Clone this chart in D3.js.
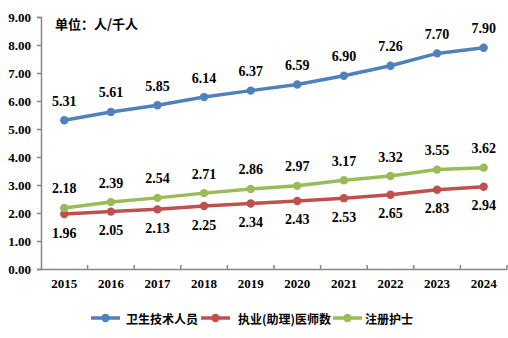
<!DOCTYPE html>
<html><head><meta charset="utf-8">
<script src="https://cdn.jsdelivr.net/npm/d3@7"></script>
<style>body{margin:0;background:#fff}svg{display:block}</style>
</head><body>
<svg id="c" width="508" height="338"></svg>
<script>
const years = ["2015","2016","2017","2018","2019","2020","2021","2022","2023","2024"];
const techStaff = [5.31,5.61,5.85,6.14,6.37,6.59,6.90,7.26,7.70,7.90];
const doctors = [1.96,2.05,2.13,2.25,2.34,2.43,2.53,2.65,2.83,2.94];
const nurses = [2.18,2.39,2.54,2.71,2.86,2.97,3.17,3.32,3.55,3.62];
const seriesNames = ["卫生技术人员","执业(助理)医师数","注册护士"];
const yTicks = [0,1,2,3,4,5,6,7,8,9];

(function(){
const svg = d3.select("#c");
const font = "'Liberation Serif','Times New Roman',serif";
const cjk = "'Noto Sans CJK SC',sans-serif";
const mLeft = 41, mRight = 507, mTop = 17, mBottom = 269;
const x = d3.scaleBand().domain(years).range([mLeft, mRight]);
const y = d3.scaleLinear().domain([0,9]).range([mBottom, mTop]);
const axisColor = "#868686";

const ya = svg.append("g").attr("transform",`translate(${mLeft},0)`)
  .call(d3.axisLeft(y).tickValues(yTicks).tickFormat(d3.format(".2f")).tickSize(4).tickPadding(6));
ya.select(".domain").attr("stroke",axisColor).attr("stroke-width",1.5);
ya.selectAll(".tick line").attr("stroke",axisColor).attr("stroke-width",1.5);
ya.selectAll("text").attr("font-family",font).attr("font-weight","bold").attr("font-size",13).attr("fill","#000");

const xa = svg.append("g").attr("transform",`translate(0,${mBottom})`)
  .call(d3.axisBottom(x).tickSize(0).tickPadding(10));
xa.select(".domain").attr("stroke",axisColor).attr("stroke-width",1.5);
xa.selectAll("text").attr("font-family",font).attr("font-weight","bold").attr("font-size",13).attr("fill","#000");
const bounds = years.map(d=>x(d)).slice(1).concat([mRight]);
svg.append("g").selectAll("line").data(bounds).join("line")
  .attr("x1",d=>d).attr("x2",d=>d).attr("y1",mBottom).attr("y2",mBottom-4)
  .attr("stroke",axisColor).attr("stroke-width",1.5);

const cx = d => x(d) + x.bandwidth()/2;
const series = [
  {name:seriesNames[0], vals:techStaff, color:"#4F81BD", dy:-19},
  {name:seriesNames[1], vals:doctors, color:"#C0504D", dy:19},
  {name:seriesNames[2], vals:nurses, color:"#9BBB59", dy:-19}
];
const line = d3.line().x((d,i)=>cx(years[i])).y(d=>y(d));
series.forEach(s=>{
  svg.append("path").datum(s.vals).attr("d",line).attr("fill","none")
    .attr("stroke",s.color).attr("stroke-width",3.5).attr("stroke-linejoin","round");
  svg.append("g").selectAll("circle").data(s.vals).join("circle")
    .attr("cx",(d,i)=>cx(years[i])).attr("cy",d=>y(d)).attr("r",4.2).attr("fill",s.color);
  svg.append("g").selectAll("text").data(s.vals).join("text")
    .attr("x",(d,i)=>cx(years[i])).attr("y",d=>y(d)+s.dy)
    .attr("text-anchor","middle").attr("dominant-baseline","central")
    .attr("font-family",font).attr("font-weight","bold").attr("font-size",14).attr("fill","#000")
    .text(d=>d.toFixed(2));
});

svg.append("text").attr("x",55).attr("y",23).attr("dominant-baseline","central")
  .attr("font-family",cjk).attr("font-weight","bold").attr("font-size",13)
  .text("单位：人/千人");

const legLine = [91, 201, 333];
const legText = [126, 238, 365];
const lg = svg.append("g").attr("transform","translate(0,318)");
series.forEach((s,i)=>{
  lg.append("line").attr("x1",legLine[i]).attr("x2",legLine[i]+29).attr("stroke",s.color).attr("stroke-width",3.5);
  lg.append("circle").attr("cx",legLine[i]+14.5).attr("r",4.2).attr("fill",s.color);
  lg.append("text").attr("x",legText[i]).attr("dominant-baseline","central")
    .attr("font-family",cjk).attr("font-weight","bold").attr("font-size",12)
    .text(s.name);
});
})();
</script>
</body></html>
